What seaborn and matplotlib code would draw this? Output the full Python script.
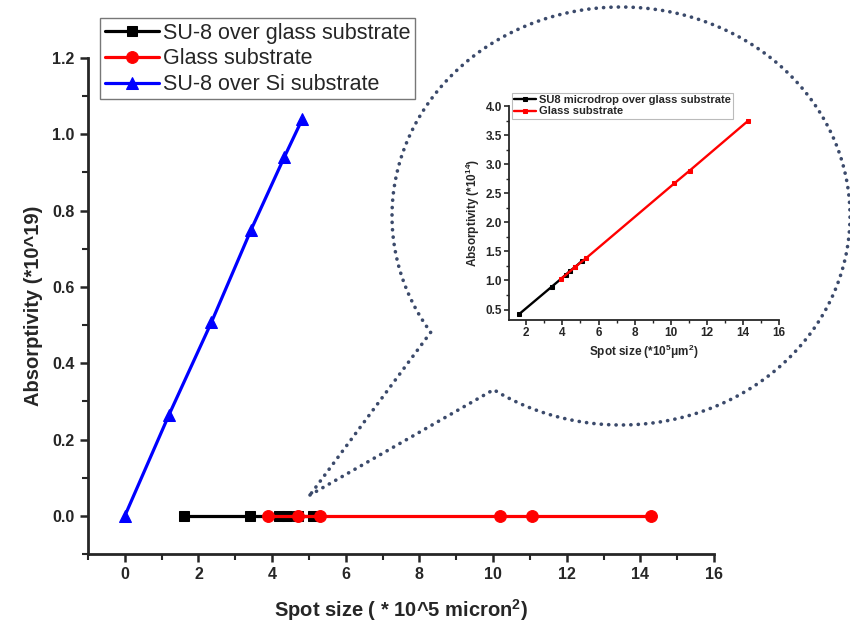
import numpy as np
import pandas as pd
import matplotlib
matplotlib.use('Agg')
import matplotlib.pyplot as plt
import seaborn as sns
from matplotlib.ticker import MultipleLocator

# main plot data (spot size in 1e5 micron^2, absorptivity in 1e19)
si_x = [0, 1.2, 2.35, 3.43, 4.33, 4.82]
si_y = [0, 0.265, 0.507, 0.75, 0.94, 1.04]
su8_x = [1.6, 3.4, 4.2, 4.4, 4.7, 5.1]
su8_y = [0, 0, 0, 0, 0, 0]
glass_x = [3.9, 4.7, 5.3, 10.2, 11.05, 14.3]
glass_y = [0, 0, 0, 0, 0, 0]

# inset data (absorptivity in 1e14)
in_su8_y = [0.42, 0.89, 1.10, 1.16, 1.23, 1.34]
in_glass_y = [1.02, 1.23, 1.38, 2.67, 2.89, 3.75]

labels = ['SU-8 over glass substrate', 'Glass substrate', 'SU-8 over Si substrate']
in_labels = ['SU8 microdrop over glass substrate', 'Glass substrate']

sns.set_style('ticks')
plt.rcParams['font.family'] = ['Liberation Sans', 'DejaVu Sans']
plt.rcParams['mathtext.fontset'] = 'custom'
plt.rcParams['mathtext.bf'] = 'Liberation Sans:bold'
plt.rcParams['mathtext.rm'] = 'Liberation Sans:bold'
plt.rcParams['mathtext.default'] = 'bf'

fig = plt.figure(figsize=(8.5, 6.34), dpi=100)
ax = fig.add_axes([0.1035, 0.126, 0.7365, 0.7825])

main_df = pd.concat([
    pd.DataFrame({'x': su8_x, 'y': su8_y, 's': labels[0]}),
    pd.DataFrame({'x': glass_x, 'y': glass_y, 's': labels[1]}),
    pd.DataFrame({'x': si_x, 'y': si_y, 's': labels[2]}),
])
styles = [('black', 's', 7.5), ('red', 'o', 8.5), ('blue', '^', 9)]
for lab, (c, m, ms) in zip(labels, styles):
    d = main_df[main_df['s'] == lab]
    sns.lineplot(data=d, x='x', y='y', ax=ax, color=c, marker=m, markersize=ms,
                 markeredgecolor=c, linewidth=2.3, sort=False, label=lab)

ax.set_xlim(-1, 16)
ax.set_ylim(-0.1, 1.2)
ax.set_xticks(np.arange(0, 17, 2))
ax.xaxis.set_minor_locator(MultipleLocator(1))
ax.set_yticks(np.arange(0, 1.21, 0.2))
ax.set_yticklabels([f'{v:.1f}' for v in np.arange(0, 1.21, 0.2)])
ax.yaxis.set_minor_locator(MultipleLocator(0.1))
sns.despine(ax=ax)
for s in ['left', 'bottom']:
    ax.spines[s].set_linewidth(2)
ax.tick_params(which='major', direction='out', length=6, width=1.8, labelsize=11.5)
ax.tick_params(which='minor', direction='out', length=4, width=1.5)
for t in ax.get_xticklabels() + ax.get_yticklabels():
    t.set_fontweight('bold')
ax.set_xlabel('Spot size ( * 10^5 micron$^2$)', fontsize=14.5, fontweight='bold', labelpad=11)
ax.set_ylabel('Absorptivity (*10^19)', fontsize=14.5, fontweight='bold', labelpad=7)

leg = ax.legend(loc='upper left', bbox_to_anchor=(0.02, 1.08), fontsize=15.5, frameon=True,
                fancybox=False, edgecolor='#555555', handlelength=2.5, handletextpad=0.2,
                borderpad=0.2, labelspacing=0.22, borderaxespad=0)
leg.get_frame().set_linewidth(1)

# callout bubble (figure pixel coords, converted to fraction)
W, H = 850, 634
cx, cy, a, b = 621, 216, 229, 209
t1, t2 = np.deg2rad(236.2), np.deg2rad(213.8 + 360)
t = np.linspace(t1, t2, 600)
ex = cx + a * np.cos(t)
ey = cy - b * np.sin(t)
px = np.concatenate([[310], ex, [310]])
py = np.concatenate([[495], ey, [495]])
fig.add_artist(plt.Line2D(px / W, 1 - py / H, transform=fig.transFigure,
                          color='#3b4a6b', linestyle=(0, (0.05, 2.0)), linewidth=2.6,
                          dash_capstyle='round', solid_capstyle='round'))

# inset
iax = fig.add_axes([0.599, 0.4953, 0.3176, 0.3375])
in_df = pd.concat([
    pd.DataFrame({'x': su8_x, 'y': in_su8_y, 's': in_labels[0]}),
    pd.DataFrame({'x': glass_x, 'y': in_glass_y, 's': in_labels[1]}),
])
for lab, c in zip(in_labels, ['black', 'red']):
    d = in_df[in_df['s'] == lab]
    sns.lineplot(data=d, x='x', y='y', ax=iax, color=c, marker='s', markersize=3.3,
                 markeredgecolor=c, linewidth=1.7, sort=False, label=lab)
iax.set_xlim(1.05, 16)
iax.set_ylim(0.32, 4.0)
iax.set_xticks(np.arange(2, 17, 2))
iax.xaxis.set_minor_locator(MultipleLocator(1))
iax.set_yticks(np.arange(0.5, 4.01, 0.5))
iax.set_yticklabels([f'{v:.1f}' for v in np.arange(0.5, 4.01, 0.5)])
iax.yaxis.set_minor_locator(MultipleLocator(0.25))
sns.despine(ax=iax)
for s in ['left', 'bottom']:
    iax.spines[s].set_linewidth(1.3)
iax.tick_params(which='major', direction='out', length=3.5, width=1.2, labelsize=8.5, pad=1.5)
iax.tick_params(which='minor', direction='out', length=2, width=1)
for tl in iax.get_xticklabels() + iax.get_yticklabels():
    tl.set_fontweight('bold')
iax.set_xlabel('Spot size (*10$^5$μm$^2$)', fontsize=8.5, fontweight='bold', labelpad=3)
iax.set_ylabel('Absorptivity (*10$^{14}$)', fontsize=8.5, fontweight='bold', labelpad=3)
il = iax.legend(loc='upper left', bbox_to_anchor=(0.01, 1.06), frameon=True,
                fancybox=False, edgecolor='#aaaaaa', handlelength=2.0, handletextpad=0.2,
                borderpad=0.2, labelspacing=0.1, borderaxespad=0, prop={'weight': 'bold', 'size': 8})
il.get_frame().set_linewidth(0.8)

fig.savefig('out.png', dpi=100)
